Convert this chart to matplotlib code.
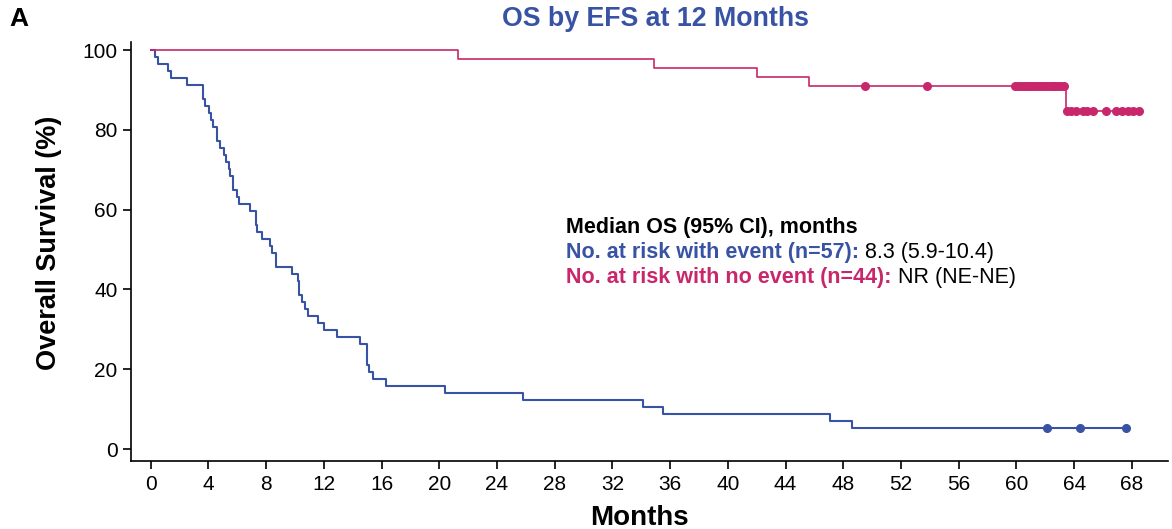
import matplotlib.pyplot as plt

plt.rcParams['font.family'] = ['Liberation Sans', 'DejaVu Sans']

# Kaplan-Meier steps (month, survival % after the step)
blue_t = [0, 0.3, 0.5, 1.2, 1.4, 2.5, 3.6, 3.75, 4.05, 4.15, 4.35, 4.6, 4.8,
          5.1, 5.2, 5.4, 5.5, 5.7, 5.95, 6.1, 6.9, 7.3, 7.4, 7.7, 8.25, 8.4,
          8.7, 9.8, 10.2, 10.3, 10.5, 10.7, 10.9, 11.6, 12.0, 12.9, 14.5,
          15.0, 15.1, 15.4, 16.3, 20.4, 25.8, 34.1, 35.5, 47.1, 48.6]
blue_s = [100, 98.2, 96.5, 94.7, 93.0, 91.2, 87.7, 86.0, 84.2, 82.5, 80.7,
          77.2, 75.4, 73.7, 71.9, 70.2, 68.4, 64.9, 63.2, 61.4, 59.6, 56.1,
          54.4, 52.6, 50.9, 49.1, 45.6, 43.9, 42.1, 38.6, 36.8, 35.1, 33.3,
          31.6, 29.8, 28.1, 26.3, 21.1, 19.3, 17.5, 15.8, 14.0, 12.3, 10.5,
          8.8, 7.0, 5.3]
blue_end = 67.6
blue_cens = [62.1, 64.4, 67.6]

red_t = [0, 21.3, 34.9, 42.0, 45.6, 63.4]
red_s = [100, 97.7, 95.5, 93.2, 90.9, 84.7]
red_end = 68.5
red_cens_a = [49.5, 53.8, 59.9, 60.1, 60.3, 60.5, 60.7, 60.9, 61.1, 61.3, 61.5,
              61.7, 61.9, 62.1, 62.3, 62.5, 62.7, 62.9, 63.1, 63.3]
red_cens_b = [63.5, 63.8, 64.1, 64.6, 64.9, 65.3, 66.2, 66.9, 67.3, 67.7,
              68.1, 68.5]

blue = '#3953a4'
red = '#c8286b'

fig = plt.figure(figsize=(11.72, 5.29), dpi=100)
ax = fig.add_axes([0.1122, 0.1285, 0.8844, 0.7927])

ax.step(blue_t + [blue_end], blue_s + [blue_s[-1]], where='post', color=blue, lw=1.5)
ax.plot(blue_cens, [blue_s[-1]] * len(blue_cens), 'o', color=blue, ms=5.5)

ax.step(red_t + [red_end], red_s + [red_s[-1]], where='post', color=red, lw=1.2)
ax.plot(red_cens_a, [red_s[-2]] * len(red_cens_a), 'o', color=red, ms=5.5)
ax.plot(red_cens_b, [red_s[-1]] * len(red_cens_b), 'o', color=red, ms=5.5)

ax.set_xlim(-1.33, 70.5)
ax.set_ylim(-3, 102.1)
ax.set_xticks(range(0, 69, 4))
ax.set_yticks(range(0, 101, 20))
for s in ['top', 'right']:
    ax.spines[s].set_visible(False)
for s in ['left', 'bottom']:
    ax.spines[s].set_linewidth(1.2)
ax.tick_params(length=6, width=1.2, pad=4, labelsize=15)

ax.set_xlabel('Months', fontsize=20, fontweight='bold', labelpad=0)
ax.xaxis.set_label_coords(0.49, -0.105)
ax.set_ylabel('Overall Survival (%)', fontsize=19.5, fontweight='bold')
ax.yaxis.set_label_coords(-0.067, 0.52)

fig.text(0.559, 0.965, 'OS by EFS at 12 Months', color=blue, fontsize=19.3,
         fontweight='bold', ha='center', va='center')
fig.text(0.008, 0.965, 'A', fontsize=19, fontweight='bold', va='center')

fs = 15.5
ax.text(28.8, 54.1, 'Median OS (95% CI), months', fontsize=fs, fontweight='bold')
t1 = ax.text(28.8, 47.9, 'No. at risk with event (n=57):', fontsize=fs,
             fontweight='bold', color=blue)
ax.annotate(' 8.3 (5.9-10.4)', xy=(1, 0), xycoords=t1, fontsize=fs, va='bottom')
t2 = ax.text(28.8, 41.6, 'No. at risk with no event (n=44):', fontsize=fs,
             fontweight='bold', color=red)
ax.annotate(' NR (NE-NE)', xy=(1, 0), xycoords=t2, fontsize=fs, va='bottom')

fig.savefig('out.png', dpi=100)
